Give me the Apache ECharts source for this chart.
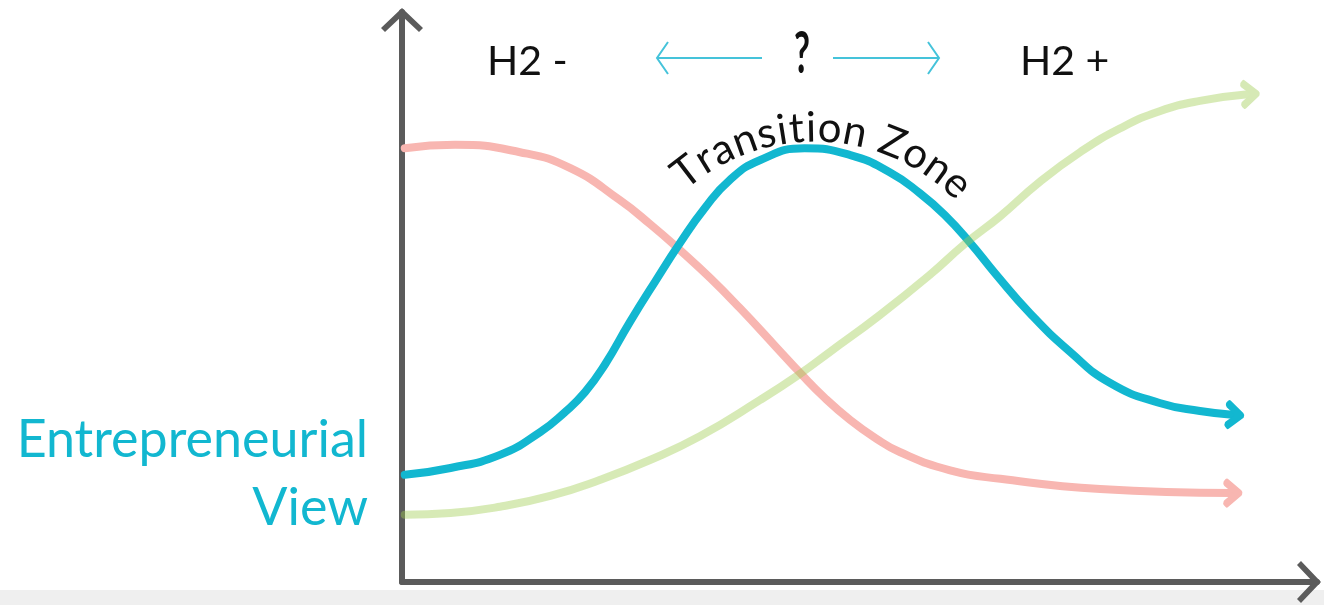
<!DOCTYPE html>
<html>
<head>
<meta charset="utf-8">
<title>Transition Zone</title>
<script src="https://cdn.jsdelivr.net/npm/echarts@6/dist/echarts.min.js"></script>
<style>
  html, body { margin: 0; padding: 0; background: #fff; }
  #chart { width: 1324px; height: 605px; }
</style>
</head>
<body>
<div id="chart"></div>
<script>
// curve points, x and y both on a 0..100 scale
const fallingCurve = [
  [0.3, 76.1], [5.8, 76.7], [12.9, 75.4], [18.4, 72.6], [23.8, 67.0], [27.1, 62.8],
  [30.4, 58.2], [33.7, 53.3], [36.9, 48.1], [40.9, 41.2], [43.5, 36.7], [46.2, 32.3],
  [49.0, 28.4], [51.7, 25.3], [54.4, 22.8], [59.9, 19.6], [65.4, 18.1], [76.3, 16.3],
  [90.8, 15.6]
];
const transitionCurve = [
  [0.3, 18.8], [5.3, 20.0], [10.7, 22.3], [15.1, 26.3], [17.8, 29.8], [20.0, 33.3],
  [22.2, 38.2], [24.9, 45.6], [27.7, 52.8], [30.4, 59.5], [33.1, 65.6], [35.8, 70.5],
  [39.1, 74.0], [44.0, 76.1], [49.0, 74.9], [53.3, 71.9], [56.6, 68.2], [59.3, 64.4],
  [62.1, 59.5], [64.8, 54.2], [68.6, 47.2], [73.0, 40.4], [77.4, 34.9], [82.8, 31.4],
  [87.2, 30.0], [91.0, 29.3]
];
const risingCurve = [
  [0.3, 11.8], [5.3, 12.1], [10.7, 13.2], [16.2, 15.1], [21.6, 17.9], [27.1, 21.4],
  [32.6, 25.6], [39.1, 31.9], [43.3, 36.3], [46.8, 40.4], [52.2, 46.8], [57.7, 53.9],
  [61.5, 59.3], [65.4, 64.2], [69.7, 70.2], [74.1, 75.4], [78.5, 79.6], [82.8, 82.6],
  [87.2, 84.4], [92.7, 85.6]
];
const headLabels = ['H2 -', '?', 'H2 +'];
const viewLabel = ['Entrepreneurial', 'View'];
const zoneLabel = 'Transition Zone';

const CYAN = '#12b7d0';
const chevronRight = 'path://M0,2L2,0L20,14L2,28L0,26L16,14Z';
const chevronUp = 'path://M21,0L42,20L38,24L21,8L4,24L0,20Z';

const chart = echarts.init(document.getElementById('chart'), null, { renderer: 'canvas' });

function curve(name, points, lineColor, headColor, headRotate, z) {
  const last = points.length - 1;
  return {
    type: 'line',
    name: name,
    z: z,
    silent: true,
    smooth: 0.5,
    symbol: 'none',
    showSymbol: true,
    lineStyle: { color: lineColor, width: 8, cap: 'round', join: 'round' },
    data: points.map((p, i) => i !== last ? p : {
      value: p,
      symbol: chevronRight,
      symbolSize: [15, 23],
      symbolRotate: headRotate,
      itemStyle: { color: headColor, borderColor: headColor, borderWidth: 5, borderJoin: 'round' }
    })
  };
}

// letters of the arc label, laid out along a circle above the peak
const measure = document.createElement('canvas').getContext('2d');
const zoneFont = '42px Lato';
measure.font = zoneFont;
const zoneWidths = [...zoneLabel].map(c => measure.measureText(c).width);
const arcCx = 815, arcCy = 338, arcR = 210, arcSpan = 318, arcMid = 2.3 * Math.PI / 180;
const zoneGap = (arcSpan - zoneWidths.reduce((a, b) => a + b, 0)) / (zoneWidths.length - 1);
const zoneChars = [];
let along = -arcSpan / 2;
[...zoneLabel].forEach((c, i) => {
  const phi = arcMid + (along + zoneWidths[i] / 2) / arcR;
  zoneChars.push({
    type: 'text',
    x: arcCx + arcR * Math.sin(phi),
    y: arcCy - arcR * Math.cos(phi),
    rotation: -phi,
    silent: true,
    z: 20,
    style: { text: c, font: zoneFont, fill: '#111', textAlign: 'center', textVerticalAlign: 'middle' }
  });
  along += zoneWidths[i] + zoneGap;
});

const arrowStyle = { stroke: '#45c3da', lineWidth: 2, fill: null };

const option = {
  backgroundColor: '#fff',
  animation: false,
  grid: { left: 402, right: 7, top: 12, bottom: 23 },
  xAxis: {
    type: 'value', min: 0, max: 100,
    axisLine: {
      show: true, onZero: false,
      symbol: ['none', chevronUp], symbolSize: [42, 24], symbolOffset: [0, -8],
      lineStyle: { color: '#5b5b5b', width: 6 }
    },
    axisTick: { show: false }, axisLabel: { show: false }, splitLine: { show: false }
  },
  yAxis: {
    type: 'value', min: 0, max: 100,
    axisLine: {
      show: true, onZero: false,
      symbol: ['none', chevronUp], symbolSize: [42, 24], symbolOffset: [0, -8],
      lineStyle: { color: '#5b5b5b', width: 6 }
    },
    axisTick: { show: false }, axisLabel: { show: false }, splitLine: { show: false }
  },
  graphic: [
    { type: 'rect', z: -10, silent: true, shape: { x: 0, y: 590, width: 1324, height: 15 }, style: { fill: '#efefef' } },
    { type: 'text', x: 487, y: 62, silent: true,
      style: { text: headLabels[0], font: '41px Lato', fill: '#111', textAlign: 'left', textVerticalAlign: 'middle' } },
    { type: 'text', x: 802, y: 54, scaleX: 0.6, silent: true,
      style: { text: headLabels[1], font: 'bold 58px Lato', fill: '#111', textAlign: 'center', textVerticalAlign: 'middle' } },
    { type: 'text', x: 1020, y: 62, silent: true,
      style: { text: headLabels[2], font: '41px Lato', fill: '#111', textAlign: 'left', textVerticalAlign: 'middle' } },
    { type: 'polyline', silent: true, shape: { points: [[657, 58], [762, 58]] }, style: arrowStyle },
    { type: 'polyline', silent: true, shape: { points: [[668, 42], [657, 58], [668, 74]] }, style: arrowStyle },
    { type: 'polyline', silent: true, shape: { points: [[833, 58], [939, 58]] }, style: arrowStyle },
    { type: 'polyline', silent: true, shape: { points: [[928, 42], [939, 58], [928, 74]] }, style: arrowStyle },
    { type: 'text', x: 368, y: 440, silent: true,
      style: { text: viewLabel[0], font: '52px Lato', fill: CYAN, textAlign: 'right', textVerticalAlign: 'middle' } },
    { type: 'text', x: 368, y: 508, silent: true,
      style: { text: viewLabel[1], font: '52px Lato', fill: CYAN, textAlign: 'right', textVerticalAlign: 'middle' } }
  ].concat(zoneChars),
  series: [
    curve('falling', fallingCurve, '#f8b6b1', '#f8b6b1', 0, 2),
    curve('transition', transitionCurve, CYAN, CYAN, -4, 3),
    curve('rising', risingCurve, 'rgba(160,205,80,0.42)', '#d6e9b5', 3, 4)
  ]
};

chart.setOption(option);
</script>
</body>
</html>
